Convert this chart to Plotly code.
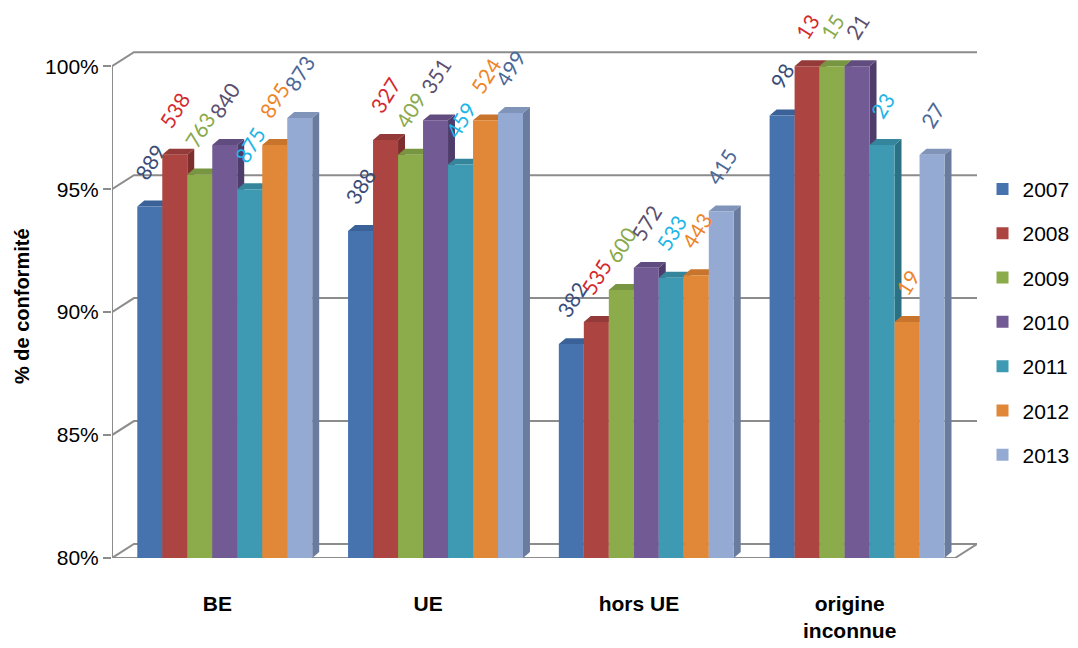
import plotly.graph_objects as go

categories = ["BE", "UE", "hors UE", "origine<br>inconnue"]
years = ["2007", "2008", "2009", "2010", "2011", "2012", "2013"]
values = {
    "2007": [94.3, 93.3, 88.7, 98.0],
    "2008": [96.4, 97.0, 89.6, 100.0],
    "2009": [95.6, 96.4, 90.9, 100.0],
    "2010": [96.8, 97.8, 91.8, 100.0],
    "2011": [95.0, 96.0, 91.4, 96.8],
    "2012": [96.8, 97.8, 91.5, 89.6],
    "2013": [97.9, 98.1, 94.1, 96.4],
}
counts = {
    "2007": [889, 388, 382, 98],
    "2008": [538, 327, 535, 13],
    "2009": [763, 409, 600, 15],
    "2010": [840, 351, 572, 21],
    "2011": [875, 459, 533, 23],
    "2012": [895, 524, 443, 19],
    "2013": [873, 499, 415, 27],
}
y_ticks = [80, 85, 90, 95, 100]
y_tick_labels = ["80%", "85%", "90%", "95%", "100%"]

bar_colors = ["#4673AE", "#AC4442", "#8CAB4B", "#725A94", "#3E9AB2", "#E08838", "#95AAD2"]
side_colors = ["#2F5182", "#7E2E2C", "#657F33", "#4E3C6A", "#2A7186", "#A8611F", "#6A7C9E"]
top_colors = ["#3A6299", "#943A38", "#789541", "#614C80", "#35869C", "#C8742D", "#8094BA"]
label_colors = ["#3A4C78", "#D42A2F", "#8AAA4C", "#5C4F6E", "#1EB5E6", "#EE8528", "#4A6898"]

# 3D look parameters (axis units)
bargap = 0.17
bar_dx, bar_dy = 0.033, 0.24      # bar depth faces
wall_dx, wall_dy = 0.104, 0.57    # back wall offset
mid_shift = 0.035                 # bars sit at mid depth
x_lo, x_hi = -0.5, 3.5 + wall_dx
y_lo, y_hi = 80, 100 + wall_dy + 0.05

xpos = list(range(len(categories)))
n = len(years)
gw = 1 - bargap
w = gw / n

fig = go.Figure()
shapes = []
annotations = []

# back wall gridlines
for t in y_ticks:
    shapes.append(dict(
        type="path", xref="x", yref="y", layer="below",
        path=f"M {x_lo},{t} L {x_lo+wall_dx},{t+wall_dy} L {x_hi},{t+wall_dy}",
        line=dict(color="#8C8C8C", width=2)))
# floor front edge and right diagonal
shapes.append(dict(
    type="path", xref="x", yref="y", layer="below",
    path=f"M {x_lo},{y_lo} L {x_hi-wall_dx},{y_lo} L {x_hi},{y_lo+wall_dy}",
    line=dict(color="#8C8C8C", width=2)))
# front vertical axis line
shapes.append(dict(
    type="line", xref="x", yref="y", layer="below",
    x0=x_lo, x1=x_lo, y0=y_lo - 0.25, y1=100,
    line=dict(color="#8C8C8C", width=2)))
# small tick at right end of floor
shapes.append(dict(
    type="line", xref="x", yref="y", layer="below",
    x0=x_hi - wall_dx, x1=x_hi - wall_dx, y0=y_lo, y1=y_lo - 0.3,
    line=dict(color="#8C8C8C", width=2)))

for i, y in enumerate(years):
    xs = [j + mid_shift for j in xpos]
    fig.add_trace(go.Bar(
        name=y, x=xs, y=values[y],
        marker=dict(color=bar_colors[i], line=dict(width=0)),
        legendgroup=y, hoverinfo="skip",
    ))
    for j, v, c in zip(xpos, values[y], counts[y]):
        xl = j + mid_shift - gw / 2 + w * i
        xr = xl + w
        shapes.append(dict(
            type="path", xref="x", yref="y", layer="between",
            path=f"M {xr},{y_lo} L {xr},{v} L {xr+bar_dx},{v+bar_dy} L {xr+bar_dx},{y_lo+bar_dy} Z",
            fillcolor=side_colors[i], line=dict(width=0)))
        shapes.append(dict(
            type="path", xref="x", yref="y", layer="between",
            path=f"M {xl},{v} L {xr},{v} L {xr+bar_dx},{v+bar_dy} L {xl+bar_dx},{v+bar_dy} Z",
            fillcolor=top_colors[i], line=dict(width=0)))
        annotations.append(dict(
            x=(xl + xr) / 2, y=v, xref="x", yref="y",
            text=str(c), showarrow=False, textangle=-58,
            xanchor="center", yanchor="bottom", yshift=20,
            font=dict(family="Lato", size=21, color=label_colors[i])))

annotations.append(dict(
    x=-0.104, y=0.497, xref="paper", yref="paper",
    text="<b>% de conformité</b>", showarrow=False, textangle=-90,
    xanchor="center", yanchor="middle",
    font=dict(family="Liberation Sans", size=20, color="black")))

fig.update_layout(
    width=1078, height=648,
    barmode="group", bargap=bargap, bargroupgap=0.0,
    plot_bgcolor="white", paper_bgcolor="white",
    margin=dict(l=104, r=109, t=43, b=98),
    font=dict(family="Liberation Sans", size=17, color="black"),
    shapes=shapes, annotations=annotations,
    legend=dict(xref="container", yref="container", x=0.904, y=0.515,
                yanchor="middle", xanchor="left",
                font=dict(size=21), tracegroupgap=14, itemwidth=30),
    yaxis=dict(range=[y_lo, y_hi], tickvals=y_ticks, ticktext=y_tick_labels,
               showgrid=False, showline=False, zeroline=False,
               ticks="outside", tickcolor="#8C8C8C", ticklen=8, tickwidth=2,
               tickfont=dict(size=21), automargin=False),
    xaxis=dict(range=[x_lo, x_hi], showline=False, showgrid=False, zeroline=False,
               ticks="", tickfont=dict(size=21), automargin=False,
               ticklabelstandoff=31,
               tickvals=xpos,
               ticktext=["<b>" + c + "</b>" for c in categories]),
)
fig.write_html("out.html")
